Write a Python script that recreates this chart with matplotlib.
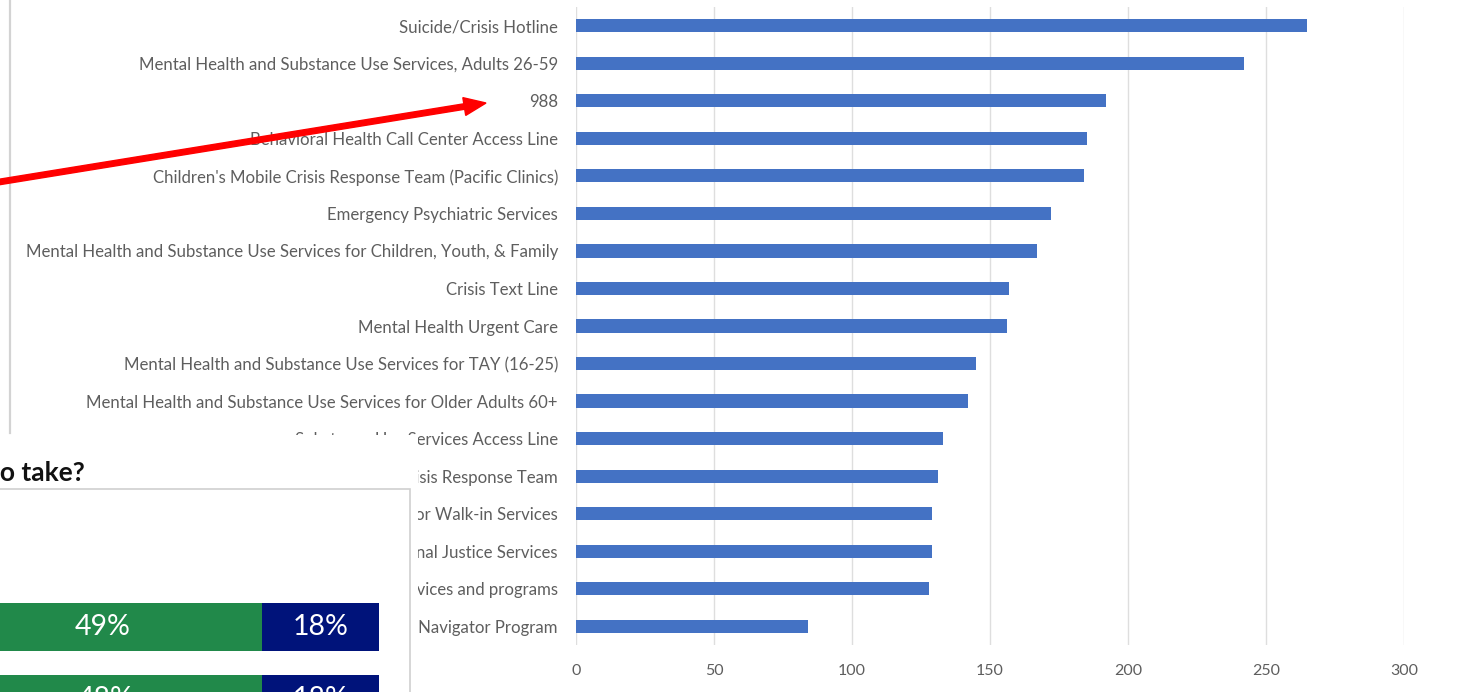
import matplotlib
matplotlib.use("Agg")
import matplotlib.pyplot as plt
from matplotlib.patches import Rectangle, FancyArrow
from matplotlib.transforms import IdentityTransform

# Service awareness counts
services = [
    "Suicide/Crisis Hotline",
    "Mental Health and Substance Use Services, Adults 26-59",
    "988",
    "Behavioral Health Call Center Access Line",
    "Children's Mobile Crisis Response Team (Pacific Clinics)",
    "Emergency Psychiatric Services",
    "Mental Health and Substance Use Services for Children, Youth, & Family",
    "Crisis Text Line",
    "Mental Health Urgent Care",
    "Mental Health and Substance Use Services for TAY (16-25)",
    "Mental Health and Substance Use Services for Older Adults 60+",
    "Substance Use Services Access Line",
    "Adult Mobile Crisis Response Team",
    "Adult Drop-in or Walk-in Services",
    "Criminal Justice Services",
    "Peer support services and programs",
    "Peer Navigator Program",
]
counts = [265, 242, 192, 185, 184, 172, 167, 157, 156, 145, 142, 133, 131, 129, 129, 128, 84]
x_ticks = [0, 50, 100, 150, 200, 250, 300]

# Stacked survey responses (percent)
resp_first = [33, 34]
resp_green = [49, 48]
resp_navy = [18, 18]
resp_title = "to take?"

W, H = 1484, 692
fig = plt.figure(figsize=(W / 100, H / 100), dpi=100)
fig.patch.set_facecolor("white")


def box(x0, y0, x1, y1):
    """Pixel box (top-left origin) -> figure fraction rect."""
    return [x0 / W, (H - y1) / H, (x1 - x0) / W, (y1 - y0) / H]


label_font = ["Lato", "DejaVu Sans"]
grey = "#5E5E5E"

# Main bar chart
ax = fig.add_axes(box(576, 7, 1404, 645))
ypos = list(range(len(services)))
ax.barh(ypos, counts, height=0.35, color="#4472C4", zorder=3)
ax.set_ylim(len(services) - 0.5, -0.5)
ax.set_xlim(0, 300)
ax.set_xticks(x_ticks)
ax.set_xticklabels([str(t) for t in x_ticks], fontsize=11.5, color=grey, family=label_font)
ax.set_yticks(ypos)
ax.set_yticklabels(services, fontsize=12.1, color=grey, family=label_font)
ax.tick_params(axis="both", length=0)
ax.tick_params(axis="x", pad=14)
ax.tick_params(axis="y", pad=13)
ax.grid(axis="x", color="#DEDEDE", linewidth=1, zorder=0)
for s in ax.spines.values():
    s.set_visible(False)

# Thin grey rule on the far left
fig.add_artist(plt.Line2D([9.5 / W, 9.5 / W], [(H - 433) / H, 1], color="#D3D3D3",
                          linewidth=1.6, transform=fig.transFigure))

# Overlaid survey panel
panel_w = 418
ins = fig.add_axes(box(0, 435, panel_w, 692), zorder=5)
ins.set_facecolor("white")
px_per = 6.5
x_left = 100 - 379 / px_per
ins.set_xlim(x_left, x_left + panel_w / px_per)
row_gap = 72.0
top = -192 / row_gap
ins.set_ylim(top + 257 / row_gap, top)
rows = [0, 1]
bh = 48 / row_gap
ins.barh(rows, resp_first, height=bh, color="#7F7F7F", zorder=2)
ins.barh(rows, resp_green, left=resp_first, height=bh, color="#21894A", zorder=2)
lefts_navy = [a + b for a, b in zip(resp_first, resp_green)]
ins.barh(rows, resp_navy, left=lefts_navy, height=bh, color="#00137A", zorder=2)
for r, a, g, n in zip(rows, resp_first, resp_green, resp_navy):
    ins.text(a + g / 2, r, f"{g}%", color="white", fontsize=20.5, ha="center", va="center",
             family=label_font, zorder=4)
    ins.text(a + g + n / 2, r, f"{n}%", color="white", fontsize=20.5, ha="center", va="center",
             family=label_font, zorder=4)
# frame of the panel
frame_top = top + (489 - 435) / row_gap
ins.add_patch(Rectangle((x_left - 10, frame_top), 10 + 410 / px_per, 10,
                        facecolor="none", edgecolor="#D0D0D0", linewidth=1.2, zorder=1))
ins.set_xticks([])
ins.set_yticks([])
for s in ins.spines.values():
    s.set_visible(False)

fig.text(85 / W, (H - 473) / H, resp_title, fontsize=19, fontweight="bold", color="#111111",
         ha="right", va="center", family=label_font, zorder=6)

# Red pointer arrow
tail = (-10, H - 183.5)
tip = (486, H - 103)
fig.add_artist(FancyArrow(tail[0], tail[1], tip[0] - tail[0], tip[1] - tail[1],
                          width=5.5, head_width=18, head_length=22, length_includes_head=True,
                          color="#FF0000", transform=IdentityTransform(), zorder=10))

fig.savefig("out.png", dpi=100, facecolor="white")
